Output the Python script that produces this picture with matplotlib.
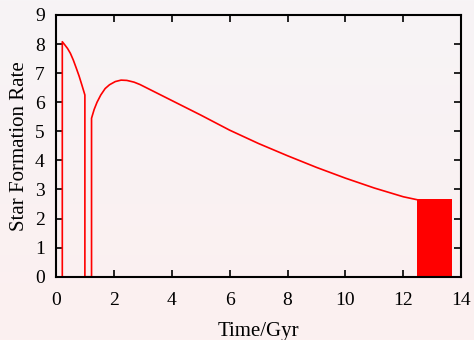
import matplotlib
matplotlib.use("Agg")
import matplotlib.pyplot as plt
import numpy as np
from matplotlib.colors import LinearSegmentedColormap

# early burst (Gyr, SFR)
early_t = [0.22, 0.22, 0.30, 0.40, 0.50, 0.60, 0.70, 0.80, 0.90, 1.00, 1.00]
early_sfr = [0.0, 8.08, 7.98, 7.85, 7.68, 7.45, 7.18, 6.90, 6.58, 6.25, 0.0]

# gap then recovery and long decline
main_t = [1.00, 1.23, 1.23, 1.32, 1.42, 1.55, 1.70, 1.85, 2.05, 2.25, 2.45, 2.70, 2.90,
          3.20, 3.50, 4.00, 5.00, 6.00, 7.00, 8.00, 9.00, 10.00, 11.00, 12.00, 12.47]
main_sfr = [0.0, 0.0, 5.45, 5.75, 6.00, 6.25, 6.47, 6.60, 6.71, 6.76, 6.75, 6.69, 6.61,
            6.46, 6.31, 6.06, 5.56, 5.04, 4.58, 4.16, 3.76, 3.39, 3.05, 2.75, 2.65]

# late oscillating phase (drawn as a filled band)
burst_t = [12.47, 13.68]
burst_level = 2.66

fig = plt.figure(figsize=(4.74, 3.40), dpi=100)

# soft vertical background gradient
bg_ax = fig.add_axes([0, 0, 1, 1], zorder=-10)
bg_cmap = LinearSegmentedColormap.from_list("bg", ["#fcf0f0", "#f7f4f6"])
bg_ax.imshow(np.linspace(0, 1, 256).reshape(-1, 1), aspect="auto", cmap=bg_cmap,
             origin="lower", extent=[0, 1, 0, 1])
bg_ax.axis("off")

ax = fig.add_axes([0.118, 0.186, 0.855, 0.77])
ax.patch.set_alpha(0)

ax.plot(early_t, early_sfr, color="red", lw=1.2)
ax.plot(main_t, main_sfr, color="red", lw=1.2)
ax.fill_between(burst_t, 0, burst_level, color="red", lw=0)

ax.set_xlim(0, 14)
ax.set_ylim(0, 9)
ax.set_xticks(np.arange(0, 15, 2))
ax.set_yticks(np.arange(0, 10, 1))

for lab in ax.get_xticklabels() + ax.get_yticklabels():
    lab.set_fontfamily("Liberation Serif")
    lab.set_fontsize(14)

font = {"family": "Liberation Serif", "size": 15}
ax.set_xlabel("Time/Gyr", fontdict=font, labelpad=9)
ax.set_ylabel("Star Formation Rate", fontdict=font, labelpad=4)

ax.tick_params(direction="in", length=5, width=1.2, top=True, right=True)
ax.tick_params(axis="x", pad=11)
ax.tick_params(axis="y", pad=8)
for sp in ax.spines.values():
    sp.set_linewidth(1.5)

fig.savefig("out.png", dpi=100)
